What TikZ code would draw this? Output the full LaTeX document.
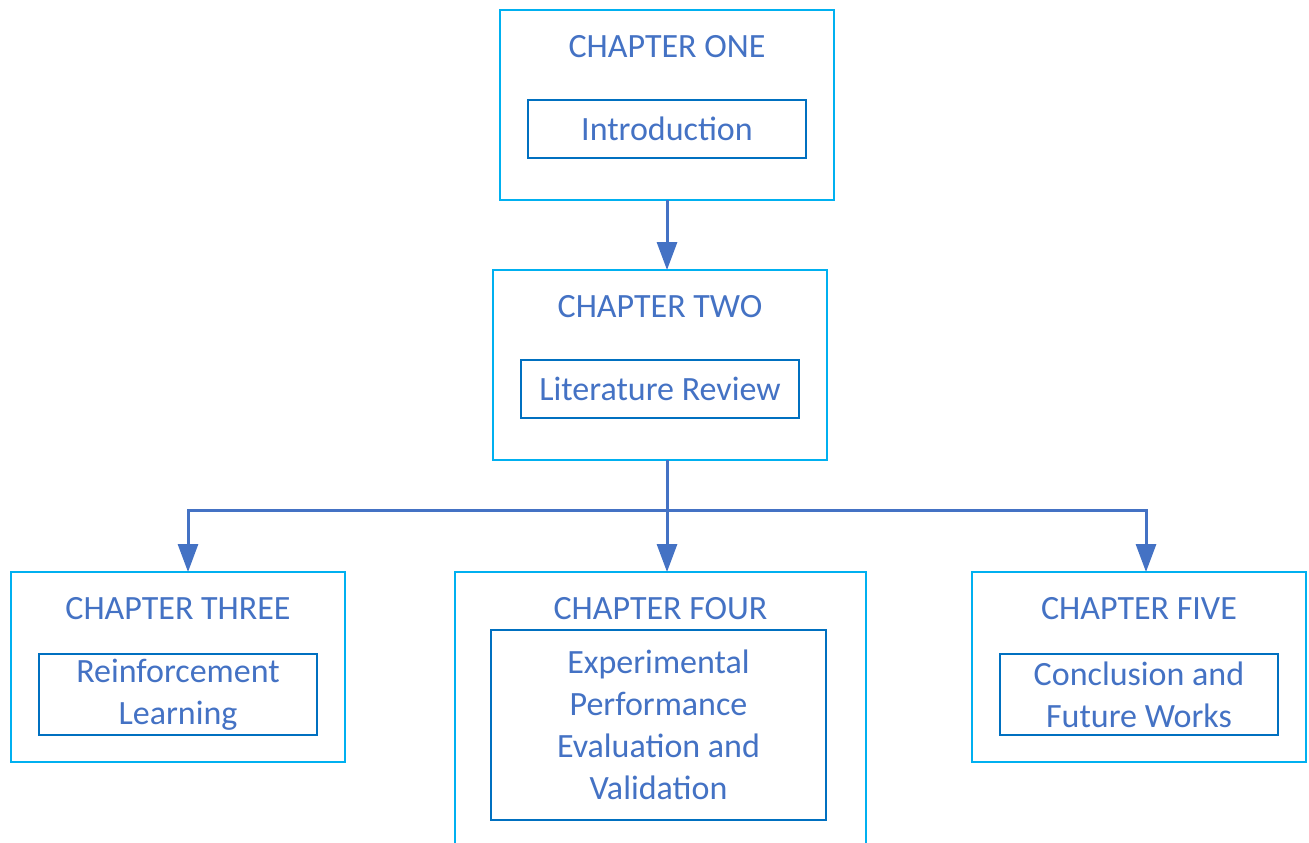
\documentclass[tikz,border=0pt]{standalone}
\usepackage{fontspec}
\setmainfont{Carlito}
\usetikzlibrary{arrows.meta}
\definecolor{txtblue}{HTML}{4472C4}
\definecolor{outercyan}{HTML}{00B0F0}
\definecolor{innerblue}{HTML}{0070C0}
\definecolor{linkblue}{HTML}{4472C4}
\tikzset{
  chapbox/.style={draw=outercyan, line width=1pt, inner sep=0pt, outer sep=0pt,
    minimum width=167pt, minimum height=95pt},
  topicbox/.style={draw=innerblue, line width=1pt, inner sep=0pt, outer sep=0pt,
    minimum width=139pt, text=txtblue, align=center,
    font=\fontsize{17pt}{21pt}\selectfont},
  title/.style={text=txtblue, anchor=base, inner sep=0pt,
    font=\fontsize{17pt}{21pt}\selectfont},
  link/.style={draw=linkblue, line width=1.5pt},
  linkarrow/.style={link, -{Triangle[length=14pt,width=10pt]}}
}
\begin{document}
\begin{tikzpicture}[x=0.5pt, y=-0.5pt]
\useasboundingbox (0,0) rectangle (1309,842);
\clip (0,0) rectangle (1309,842);
\fill[white] (0,0) rectangle (1309,842);

% chapter one
\node[chapbox] (c1) at (667,105) {};
\node[title] (c1t) at (667,57) {CHAPTER ONE};
\node[topicbox, minimum height=29pt] (c1i) at (667,129) {Introduction};

% chapter two
\node[chapbox] (c2) at (660,365) {};
\node[title] (c2t) at (660,317) {CHAPTER TWO};
\node[topicbox, minimum height=29pt] (c2i) at (660,389) {Literature Review};

% chapter three
\node[chapbox] (c3) at (178,667) {};
\node[title] (c3t) at (178,619) {CHAPTER THREE};
\node[topicbox, minimum height=40.5pt] (c3i) at (178,694.5) {Reinforcement\\Learning};

% chapter four (runs past the lower edge)
\node[chapbox, minimum width=205.5pt, minimum height=174pt] (c4) at (660.5,746) {};
\node[title] (c4t) at (660.5,619) {CHAPTER FOUR};
\node[topicbox, minimum width=167.5pt, minimum height=95pt] (c4i) at (658.5,725)
  {Experimental\\Performance\\Evaluation and\\Validation};

% chapter five
\node[chapbox] (c5) at (1139,667) {};
\node[title] (c5t) at (1139,619) {CHAPTER FIVE};
\node[topicbox, minimum height=40.5pt] (c5i) at (1139,694.5) {Conclusion and\\Future Works};

% connectors
\draw[linkarrow] (c1.south) -- (c1.south |- c2.north);
\coordinate (split) at (667,510);
\draw[link] (c2.south -| split) -- (split);
\draw[linkarrow] (split) -| ([xshift=5pt]c3.north);
\draw[linkarrow] (split) -- (split |- c4.north);
\draw[linkarrow] (split) -| ([xshift=3.5pt]c5.north);
\end{tikzpicture}
\end{document}
